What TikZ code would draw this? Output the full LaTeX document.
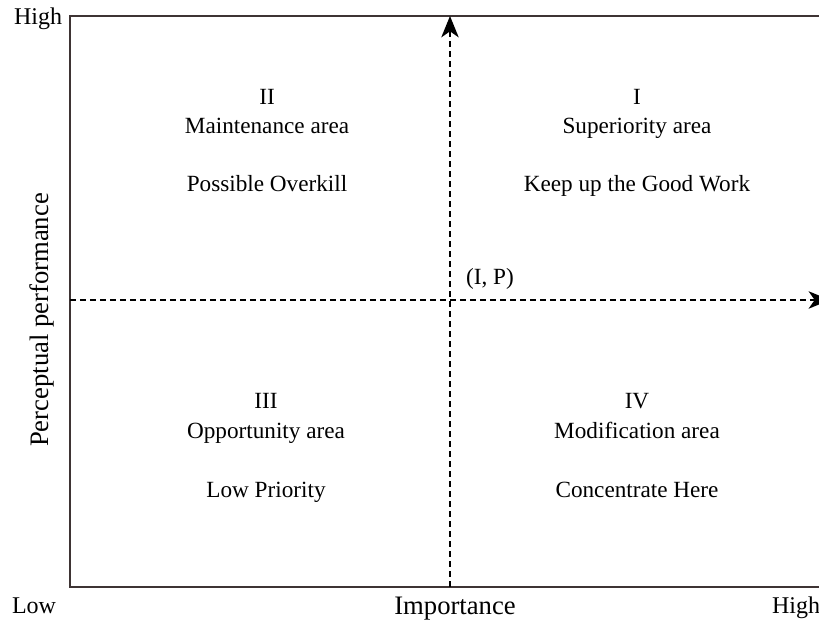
\documentclass[tikz,border=0pt]{standalone}
\usepackage{fontspec}
\setmainfont{Liberation Serif}
\usetikzlibrary{arrows.meta}

\definecolor{framegray}{RGB}{62,52,52}

\tikzset{
  frame/.style={framegray,line width=1pt},
  axisline/.style={black,line width=1.6pt,dash pattern=on 4.5pt off 3pt,
    -{Stealth[length=16pt,width=13pt,inset=4.5pt]}},
  quadtext/.style={font=\fontsize{17.4}{20}\selectfont,inner sep=0pt,anchor=base},
  endtext/.style={font=\fontsize{18}{21}\selectfont,inner sep=0pt,anchor=base},
  axistitle/.style={font=\fontsize{20}{23}\selectfont,inner sep=0pt,anchor=base}
}

\begin{document}
\begin{tikzpicture}[x=0.75pt,y=-0.75pt]

\useasboundingbox (0,0) rectangle (819,620);

% frame (right side runs off the page)
\draw[frame] (826,16) -- (70,16) -- (70,587) -- (826,587);

% axes through (I, P)
\coordinate (vbot) at (450,587);
\coordinate (vtop) at (450,16);
\coordinate (hleft) at (70,300);
\coordinate (hright) at (830,300);
\draw[axisline] (vbot) -- (vtop);
\draw[axisline] (hleft) -- (hright);

\node[quadtext] (ip) at (490,285) {(I, P)};

% quadrant II
\node[quadtext] (q2num) at (267,105) {II};
\node[quadtext] (q2name) at (267,134) {Maintenance area};
\node[quadtext] (q2hint) at (267,192) {Possible Overkill};

% quadrant I
\node[quadtext] (q1num) at (637,105) {I};
\node[quadtext] (q1name) at (637,134) {Superiority area};
\node[quadtext] (q1hint) at (637,192) {Keep up the Good Work};

% quadrant III
\node[quadtext] (q3num) at (266,409) {III};
\node[quadtext] (q3name) at (266,439) {Opportunity area};
\node[quadtext] (q3hint) at (266,498) {Low Priority};

% quadrant IV
\node[quadtext] (q4num) at (637,409) {IV};
\node[quadtext] (q4name) at (637,439) {Modification area};
\node[quadtext] (q4hint) at (637,498) {Concentrate Here};

% axis ends and titles
\node[endtext] (yhigh) at (38,25) {High};
\node[endtext] (xlow) at (34,614) {Low};
\node[endtext] (xhigh) at (796,614) {High};
\node[axistitle] (xtitle) at (455,615) {Importance};
\node[axistitle,rotate=90] (ytitle) at (48,320) {Perceptual performance};

\end{tikzpicture}
\end{document}
